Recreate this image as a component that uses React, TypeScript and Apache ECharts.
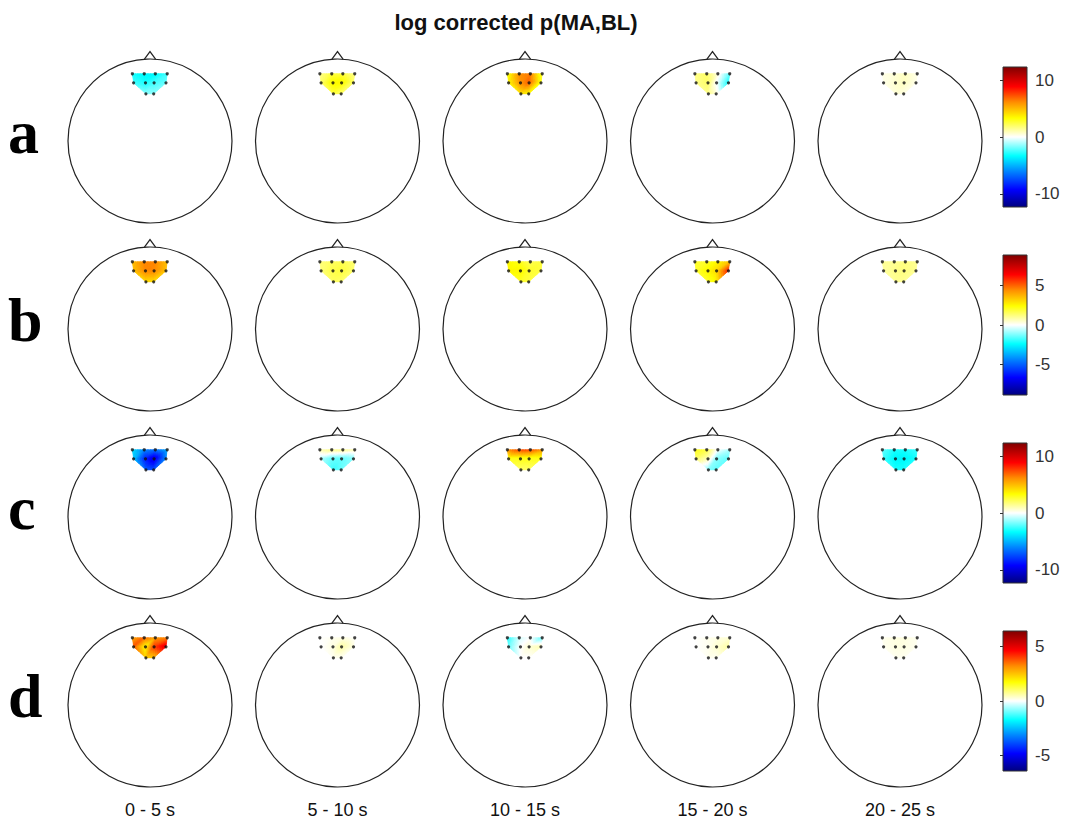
import React, { useEffect, useRef } from "react";
import * as echarts from "echarts";

const TITLE = "log corrected p(MA,BL)";
const ROW_LETTERS = ["a", "b", "c", "d"];
const TIME_WINDOWS = ["0 - 5 s", "5 - 10 s", "10 - 15 s", "15 - 20 s", "20 - 25 s"];

// Electrode positions on a unit head (nose up): front row L→R, second row L→R, third row L→R
const ELEC_X = [-0.215, -0.07, 0.065, 0.21, -0.2, -0.055, 0.05, 0.195, -0.05, 0.045];
const ELEC_Y = [0.82, 0.82, 0.82, 0.82, 0.71, 0.71, 0.71, 0.71, 0.575, 0.575];

// Triangulation of the electrode hull (indices into ELEC_X / ELEC_Y)
const MESH = [
  [0, 1, 4], [1, 5, 4], [1, 2, 5], [2, 6, 5], [2, 3, 6],
  [3, 7, 6], [4, 5, 8], [5, 6, 8], [6, 9, 8], [6, 7, 9],
];

// Colour limits and colourbar ticks of each row
const CLIM = [12.3, 8.85, 12.3, 6.4];
const CBAR_TICKS = [[-10, 0, 10], [-5, 0, 5], [-10, 0, 10], [-5, 0, 5]];

// Electrode values, one list per time window
const ROW_A = [
  [-3, -3.5, -3.5, -2.5, -2.5, -3, -2.5, -2, -1.5, -1.5],
  [1.5, 2.5, 2.5, 1.5, 2, 3.5, 3.5, 2, 2.5, 2],
  [3, 6, 6.5, 2.5, 3.5, 6, 7, 3, 4, 3.5],
  [1.5, 2, 0.5, -2, 1.5, 2, 0, -3, 1.5, 0.5],
  [0.3, 0.5, 0.8, 0.3, 0.3, 0.6, 0.8, 0.3, 0.5, 0.4],
];
const ROW_B = [
  [3.5, 4.5, 4.5, 3.5, 3.5, 4.5, 4.5, 3.5, 3, 3],
  [1.2, 1.5, 1.6, 1.3, 1.3, 1.7, 1.8, 1.4, 1.5, 1.4],
  [2.5, 2.2, 1.6, 1.8, 2.5, 2.5, 2, 1.8, 2, 1.8],
  [2, 2, 2.5, 3.5, 2, 2.5, 3, 6, 2, 2.5],
  [1, 1, 1.2, 1, 0.9, 1.1, 1.2, 1, 1, 1],
];
const ROW_C = [
  [-4, -6, -6.5, -5, -4.5, -8.5, -10, -6, -7, -7.5],
  [1, 1.5, 1.5, 1, -1, -2, -2, -1.5, -2.5, -2],
  [6, 7.5, 7.5, 6, 3, 3, 3, 3, 2, 2],
  [3, 2.5, 0, -1, 2, 1, -1.5, -2, -1.5, -2],
  [-2, -3, -3, -2.5, -2.5, -3.5, -3.5, -3, -3, -3],
];
const ROW_D = [
  [2.8, 3.6, 3, 3.3, 3.8, 1.8, 4, 5, 2.3, 2.5],
  [0, 0.1, 0.2, 0, 0, 0.2, 0.6, 0.2, 0.1, 0.1],
  [-1.5, -0.3, 0, -1, -1, 0, 0.3, 0.5, 0, 0],
  [0, 0.1, 0.2, 0.3, 0, 0.1, 0.3, 0.6, 0.1, 0.1],
  [0.1, 0.2, 0.2, 0.1, 0.1, 0.2, 0.2, 0.1, 0.1, 0.1],
];
const ROWS = [ROW_A, ROW_B, ROW_C, ROW_D];

// Diverging jet-like colour map with white at zero (positions in [-1, 1])
const CMAP_POS = [-1, -0.75, -0.5, -0.27, 0, 0.27, 0.5, 0.72, 1];
const CMAP_COLORS = ["#00007f", "#0000ff", "#0080ff", "#00ffff", "#ffffff", "#ffff00", "#ff8c00", "#ff0000", "#800000"];

// Layout
const W = 1073;
const H = 822;
const HEAD_CX = [150, 337.5, 525, 712.5, 900];
const HEAD_CY = [141, 329, 517, 705];
const HEAD_R = 82;
const CBAR_LEFT = 1003;
const CBAR_W = 24;
const CBAR_H = 140;
const FONT = "'Liberation Sans', Arial, Helvetica, sans-serif";

function hexToRgb(h: string): number[] {
  const n = parseInt(h.slice(1), 16);
  return [(n >> 16) & 255, (n >> 8) & 255, n & 255];
}
const CMAP_RGB = CMAP_COLORS.map(hexToRgb);

function colorAt(t: number): string {
  const x = Math.max(-1, Math.min(1, t));
  for (let i = 0; i < CMAP_POS.length - 1; i++) {
    if (x <= CMAP_POS[i + 1]) {
      const f = (x - CMAP_POS[i]) / (CMAP_POS[i + 1] - CMAP_POS[i]);
      const a = CMAP_RGB[i];
      const b = CMAP_RGB[i + 1];
      const c = [0, 1, 2].map((k) => Math.round(a[k] + (b[k] - a[k]) * f));
      return `rgb(${c[0]},${c[1]},${c[2]})`;
    }
  }
  return CMAP_COLORS[CMAP_COLORS.length - 1];
}

// Linearly shaded triangle: each mesh triangle is split into small flat facets
function meshRenderer(clim: number) {
  return (_params: any, api: any) => {
    const P = [0, 1, 2].map((k) => ({
      x: api.value(3 * k),
      y: api.value(3 * k + 1),
      v: api.value(3 * k + 2),
    }));
    const N = 7;
    const pt = (i: number, j: number) => {
      const a = i / N;
      const b = j / N;
      const c = 1 - a - b;
      return {
        x: P[0].x * c + P[1].x * a + P[2].x * b,
        y: P[0].y * c + P[1].y * a + P[2].y * b,
        v: P[0].v * c + P[1].v * a + P[2].v * b,
      };
    };
    const children: any[] = [];
    const facet = (q: any[]) => {
      const v = (q[0].v + q[1].v + q[2].v) / 3;
      const col = colorAt(v / clim);
      children.push({
        type: "polygon",
        shape: { points: q.map((p) => api.coord([p.x, p.y])) },
        style: { fill: col, stroke: col, lineWidth: 0.6 },
        silent: true,
      });
    };
    for (let i = 0; i < N; i++) {
      for (let j = 0; j < N - i; j++) {
        facet([pt(i, j), pt(i + 1, j), pt(i, j + 1)]);
        if (i + j < N - 1) facet([pt(i + 1, j), pt(i + 1, j + 1), pt(i, j + 1)]);
      }
    }
    return { type: "group", children };
  };
}

// Head outline with nose
function headRenderer(_params: any, api: any) {
  const c = api.coord([0, 0]);
  const r = api.size([1, 1])[0];
  const nose = [api.coord([-0.068, 0.998]), api.coord([0, 1.09]), api.coord([0.068, 0.998])];
  return {
    type: "group",
    children: [
      { type: "circle", shape: { cx: c[0], cy: c[1], r }, style: { fill: "none", stroke: "#222", lineWidth: 1.2 } },
      { type: "polyline", shape: { points: nose }, style: { fill: "none", stroke: "#222", lineWidth: 1.2 } },
    ],
  };
}

function colorbarRenderer(clim: number) {
  return (_params: any, api: any) => {
    const p0 = api.coord([0, clim]);
    const p1 = api.coord([1, -clim]);
    const stops = CMAP_POS.map((p, i) => ({ offset: (p + 1) / 2, color: CMAP_COLORS[i] }));
    return {
      type: "rect",
      shape: { x: p0[0], y: p0[1], width: p1[0] - p0[0], height: p1[1] - p0[1] },
      style: {
        fill: new echarts.graphic.LinearGradient(0, 1, 0, 0, stops),
        stroke: "#333",
        lineWidth: 1,
      },
    };
  };
}

function buildOption() {
  const grid: any[] = [];
  const xAxis: any[] = [];
  const yAxis: any[] = [];
  const series: any[] = [];
  const graphic: any[] = [];

  ROWS.forEach((row, r) => {
    const clim = CLIM[r];
    row.forEach((vals, c) => {
      const gi = grid.length;
      grid.push({
        left: HEAD_CX[c] - HEAD_R,
        top: HEAD_CY[r] - HEAD_R,
        width: 2 * HEAD_R,
        height: 2 * HEAD_R,
      });
      xAxis.push({ type: "value", gridIndex: gi, min: -1, max: 1, show: false });
      yAxis.push({ type: "value", gridIndex: gi, min: -1, max: 1, show: false });

      const meshData = MESH.map((tri) => {
        const item: number[] = [];
        tri.forEach((k) => item.push(ELEC_X[k], ELEC_Y[k], vals[k]));
        return item;
      });
      series.push({
        type: "custom",
        xAxisIndex: gi,
        yAxisIndex: gi,
        z: 2,
        silent: true,
        renderItem: meshRenderer(clim),
        data: meshData,
      });
      series.push({
        type: "custom",
        xAxisIndex: gi,
        yAxisIndex: gi,
        z: 3,
        silent: true,
        renderItem: headRenderer,
        data: [[0, 0]],
      });
      series.push({
        type: "scatter",
        xAxisIndex: gi,
        yAxisIndex: gi,
        z: 4,
        silent: true,
        symbolSize: 3.2,
        itemStyle: { color: "#111" },
        data: ELEC_X.map((x, i) => [x, ELEC_Y[i]]),
      });
    });

    // colourbar
    const gi = grid.length;
    grid.push({ left: CBAR_LEFT, top: HEAD_CY[r] - 4 - CBAR_H / 2, width: CBAR_W, height: CBAR_H });
    xAxis.push({ type: "value", gridIndex: gi, min: 0, max: 1, show: false });
    yAxis.push({
      type: "value",
      gridIndex: gi,
      min: -clim,
      max: clim,
      position: "right",
      axisLine: { show: false },
      splitLine: { show: false },
      axisTick: {
        show: true,
        inside: true,
        length: 3,
        customValues: CBAR_TICKS[r],
        lineStyle: { color: "#333", width: 1 },
      },
      axisLabel: {
        customValues: CBAR_TICKS[r],
        color: "#333",
        fontSize: 17,
        fontFamily: FONT,
        margin: 8,
      },
    });
    series.push({
      type: "custom",
      xAxisIndex: gi,
      yAxisIndex: gi,
      z: 2,
      silent: true,
      renderItem: colorbarRenderer(clim),
      data: [[0, 0]],
    });

    graphic.push({
      type: "text",
      left: 8,
      top: HEAD_CY[r] - 40,
      style: {
        text: ROW_LETTERS[r],
        font: "bold 62px 'Liberation Serif', 'Times New Roman', serif",
        fill: "#000",
      },
    });
  });

  graphic.push({
    type: "text",
    x: 516,
    y: 22,
    style: {
      text: TITLE,
      font: `bold 22px ${FONT}`,
      fill: "#111",
      textAlign: "center",
      textVerticalAlign: "middle",
    },
  });
  TIME_WINDOWS.forEach((t, c) => {
    graphic.push({
      type: "text",
      x: HEAD_CX[c],
      y: 810,
      style: {
        text: t,
        font: `18px ${FONT}`,
        fill: "#111",
        textAlign: "center",
        textVerticalAlign: "middle",
      },
    });
  });

  return {
    animation: false,
    backgroundColor: "#ffffff",
    grid,
    xAxis,
    yAxis,
    series,
    graphic,
  };
}

export default function App() {
  const ref = useRef<HTMLDivElement>(null);
  useEffect(() => {
    if (!ref.current) return;
    const chart = echarts.init(ref.current, undefined, { renderer: "svg" });
    chart.setOption(buildOption());
    return () => chart.dispose();
  }, []);
  return (
    <div
      ref={ref}
      style={{ position: "absolute", left: 0, top: 0, width: W, height: H, background: "#fff" }}
    />
  );
}
